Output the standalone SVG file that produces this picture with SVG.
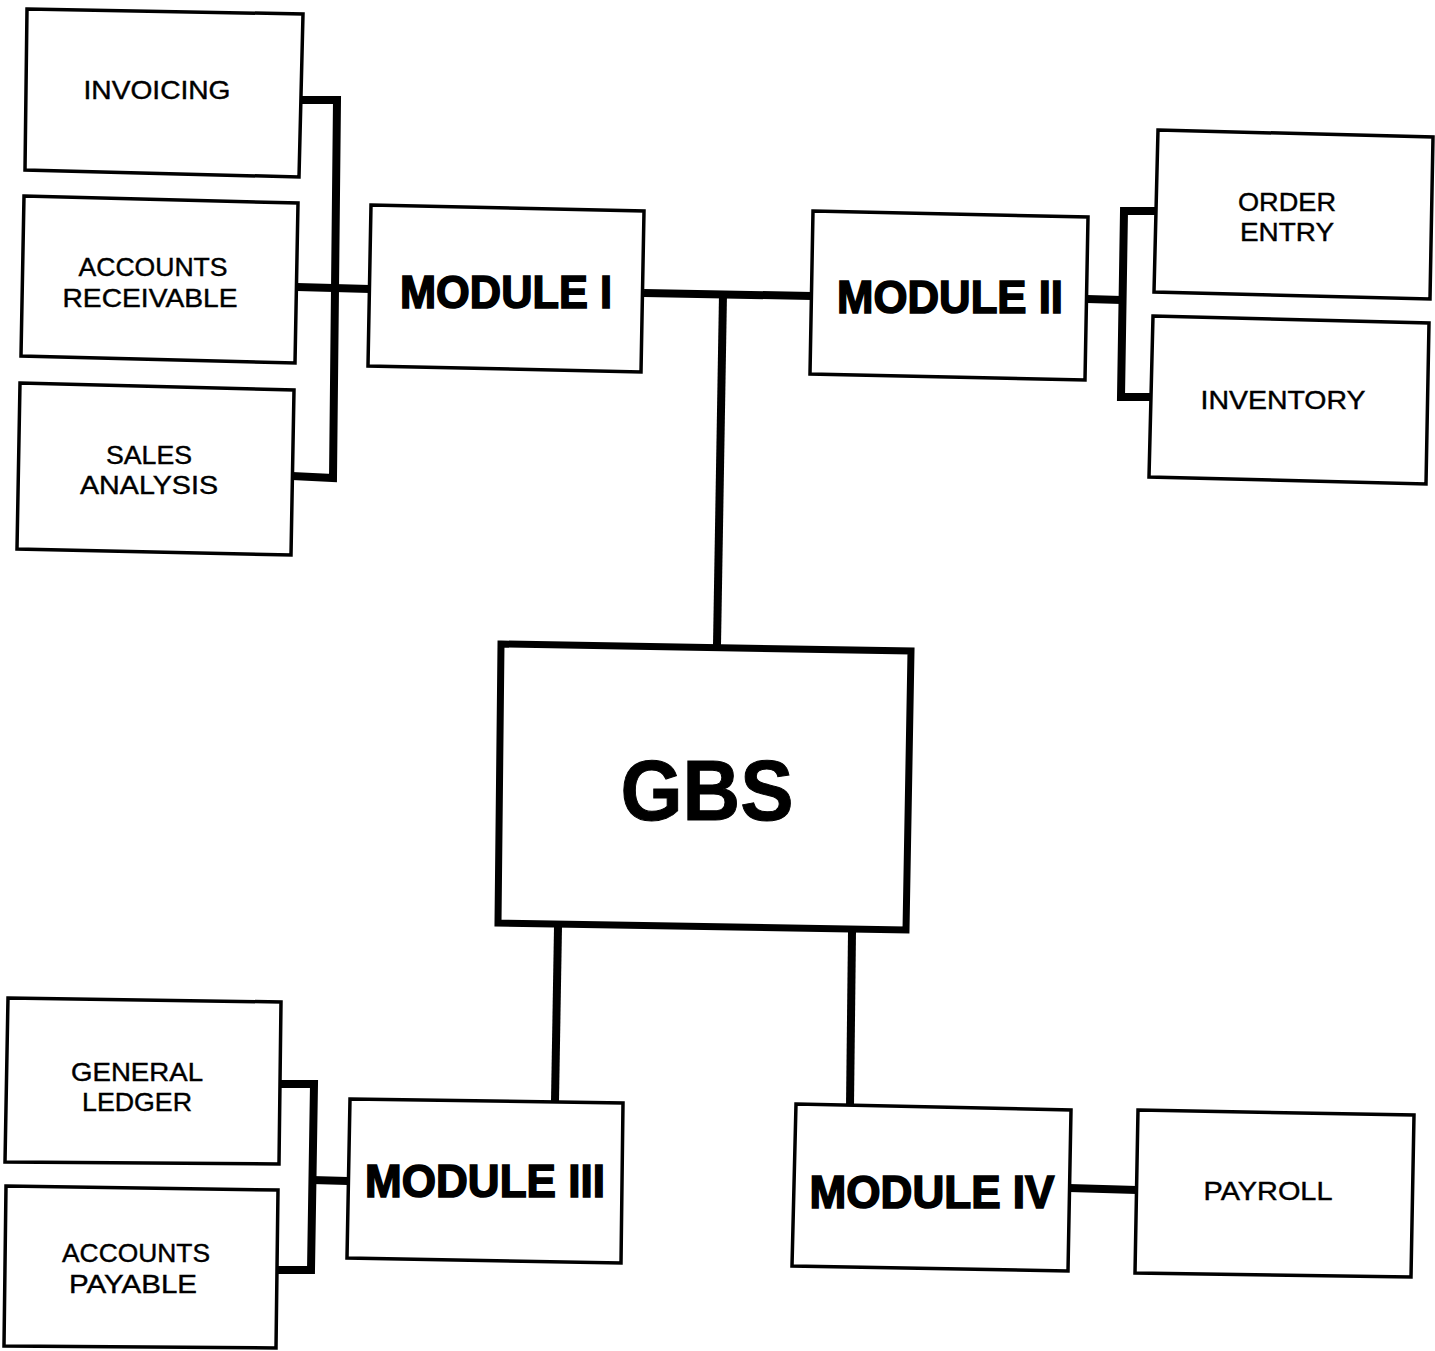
<svg xmlns="http://www.w3.org/2000/svg" width="1435" height="1351" viewBox="0 0 1435 1351">
<style>
.box{fill:#fff;stroke:#000;stroke-width:3.5;stroke-linejoin:miter}
.big{fill:#fff;stroke:#000;stroke-width:7}
.lbl{font-family:"Liberation Sans",Arial,sans-serif;font-size:25px;fill:#000;stroke:#000;stroke-width:0.4;text-anchor:middle}
.mod{font-family:"Liberation Sans",Arial,sans-serif;font-weight:bold;font-size:46px;fill:#000;stroke:#000;stroke-width:1.6;text-anchor:middle}
.gbs{font-family:"Liberation Sans",Arial,sans-serif;font-weight:bold;font-size:86px;fill:#000;stroke:#000;stroke-width:1;text-anchor:middle}
.bus{fill:none;stroke:#000;stroke-width:8;stroke-linejoin:miter}
</style>
<rect width="1435" height="1351" fill="#fff"/>
<g id="connectors">
<polyline class="bus" points="300,100 337,100 333,478 292,476"/>
<line class="bus" x1="297" y1="287" x2="370" y2="289"/>
<line class="bus" x1="644" y1="293" x2="812" y2="296"/>
<line class="bus" x1="723" y1="294" x2="717" y2="645" stroke-width="9"/>
<polyline class="bus" points="1157,211 1124,211 1121,397 1150,397"/>
<line class="bus" x1="1087" y1="299" x2="1122" y2="300"/>
<line class="bus" x1="558" y1="927" x2="555" y2="1101" stroke-width="9"/>
<line class="bus" x1="852" y1="932" x2="850" y2="1106" stroke-width="9"/>
<polyline class="bus" points="280,1084 314,1084 311,1270 278,1270"/>
<line class="bus" x1="312" y1="1180" x2="348" y2="1181"/>
<line class="bus" x1="1069" y1="1188" x2="1137" y2="1190" stroke-width="10"/>
</g>
<g id="invoicing">
<polygon class="box" points="27,9 303,14 299,177 25,170"/>
<text class="lbl" x="157" y="99" textLength="147" lengthAdjust="spacingAndGlyphs">INVOICING</text>
</g>
<g id="accounts-receivable">
<polygon class="box" points="24,196 298,203 295,363 21,356"/>
<text class="lbl" x="153" y="276" textLength="149" lengthAdjust="spacingAndGlyphs">ACCOUNTS</text>
<text class="lbl" x="150" y="307" textLength="175" lengthAdjust="spacingAndGlyphs">RECEIVABLE</text>
</g>
<g id="sales-analysis">
<polygon class="box" points="20,383 294,390 291,555 17,549"/>
<text class="lbl" x="149" y="464" textLength="86" lengthAdjust="spacingAndGlyphs">SALES</text>
<text class="lbl" x="149" y="494" textLength="138" lengthAdjust="spacingAndGlyphs">ANALYSIS</text>
</g>
<g id="module-1">
<polygon class="box" points="371,205 644,211 641,372 368,366"/>
<text class="mod" x="506" y="308" textLength="212" lengthAdjust="spacingAndGlyphs">MODULE I</text>
</g>
<g id="module-2">
<polygon class="box" points="813,211 1088,217 1085,380 810,374"/>
<text class="mod" x="950" y="313" textLength="226" lengthAdjust="spacingAndGlyphs">MODULE II</text>
</g>
<g id="order-entry">
<polygon class="box" points="1158,130 1433,137 1430,299 1154,292"/>
<text class="lbl" x="1287" y="211" textLength="98" lengthAdjust="spacingAndGlyphs">ORDER</text>
<text class="lbl" x="1287" y="241" textLength="94" lengthAdjust="spacingAndGlyphs">ENTRY</text>
</g>
<g id="inventory">
<polygon class="box" points="1153,316 1429,323 1426,484 1149,477"/>
<text class="lbl" x="1283" y="409" textLength="165" lengthAdjust="spacingAndGlyphs">INVENTORY</text>
</g>
<g id="gbs">
<polygon class="big" points="501,644 911,651 906,930 498,923"/>
<text class="gbs" x="707" y="820" textLength="173" lengthAdjust="spacingAndGlyphs">GBS</text>
</g>
<g id="general-ledger">
<polygon class="box" points="8,998 281,1002 279,1164 5,1162"/>
<text class="lbl" x="137" y="1081" textLength="132" lengthAdjust="spacingAndGlyphs">GENERAL</text>
<text class="lbl" x="137" y="1111" textLength="110" lengthAdjust="spacingAndGlyphs">LEDGER</text>
</g>
<g id="accounts-payable">
<polygon class="box" points="6,1186 278,1190 276,1348 4,1346"/>
<text class="lbl" x="136" y="1262" textLength="148" lengthAdjust="spacingAndGlyphs">ACCOUNTS</text>
<text class="lbl" x="133" y="1293" textLength="128" lengthAdjust="spacingAndGlyphs">PAYABLE</text>
</g>
<g id="module-3">
<polygon class="box" points="350,1099 623,1103 621,1263 347,1258"/>
<text class="mod" x="485" y="1197" textLength="240" lengthAdjust="spacingAndGlyphs">MODULE III</text>
</g>
<g id="module-4">
<polygon class="box" points="796,1104 1071,1110 1068,1271 792,1266"/>
<text class="mod" x="932" y="1208" textLength="245" lengthAdjust="spacingAndGlyphs">MODULE IV</text>
</g>
<g id="payroll">
<polygon class="box" points="1138,1110 1414,1115 1411,1277 1135,1273"/>
<text class="lbl" x="1268" y="1200" textLength="129" lengthAdjust="spacingAndGlyphs">PAYROLL</text>
</g>
</svg>
